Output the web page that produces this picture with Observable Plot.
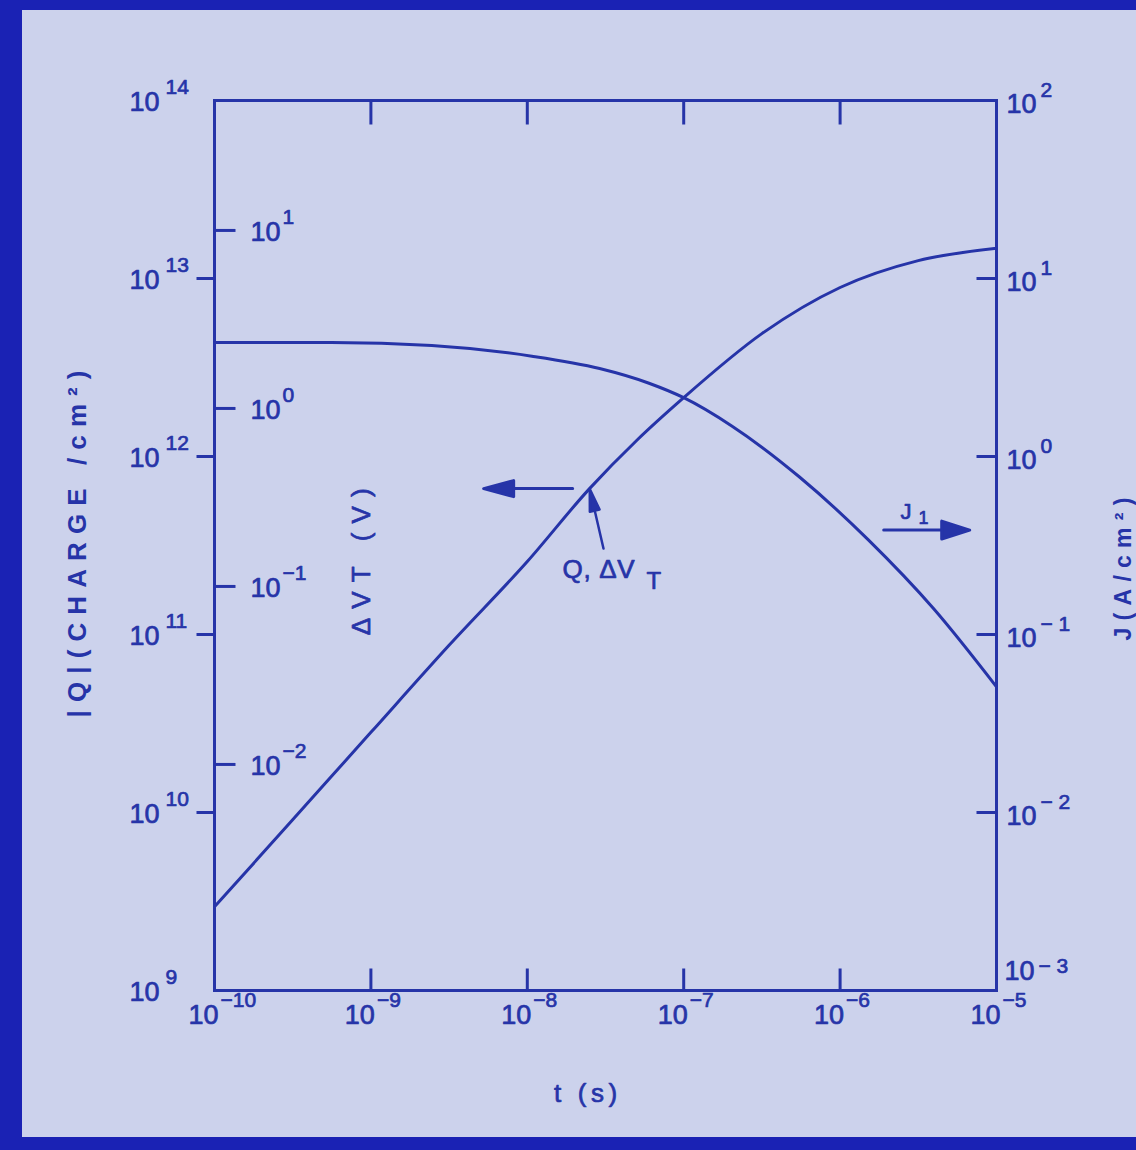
<!DOCTYPE html>
<html><head><meta charset="utf-8">
<script src="https://cdn.jsdelivr.net/npm/d3@7"></script>
<script src="https://cdn.jsdelivr.net/npm/@observablehq/plot@0.6"></script>
<style>
html,body{margin:0;padding:0;}
body{width:1136px;height:1150px;background:#1a22b4;position:relative;overflow:hidden;}
#panel{position:absolute;left:22px;top:10px;width:1114px;height:1127px;background:#ccd2ec;}
#chart{position:absolute;left:0;top:0;}
</style></head>
<body><div id="panel"></div><div id="chart"></div>
<script>
// ---- tick values and labels ----
const tTicks = [1e-10, 1e-9, 1e-8, 1e-7, 1e-6, 1e-5];
const tExp   = ["−10", "−9", "−8", "−7", "−6", "−5"];
const qTicks = [1e14, 1e13, 1e12, 1e11, 1e10, 1e9];
const qExp   = ["14", "13", "12", "11", "10", "9"];
const dvTicks = [10, 1, 0.1, 0.01];
const dvExp   = ["1", "0", "−1", "−2"];
const jTicks = [100, 10, 1, 0.1, 0.01, 0.001];
const jExp   = ["2", "1", "0", "− 1", "− 2", "− 3"];

// ---- series: |Q| (charge/cm^2) vs t (s) ----
const tQ   = [1e-10, 3.16e-10, 1e-9, 3.16e-9, 1e-8, 2.5e-8, 5e-8, 1e-7, 3.16e-7, 1e-6, 3.16e-6, 1e-5];
const qVal = [2.95e9, 9.1e9, 2.82e10, 8.7e10, 2.57e11, 6.6e11, 1.23e12, 2.14e12, 4.9e12, 8.9e12, 1.26e13, 1.48e13];
// ---- series: J1 (A/cm^2) vs t (s) ----
const tJ   = [1e-10, 5.6e-10, 2.45e-9, 1.07e-8, 2.9e-8, 6.0e-8, 1.0e-7, 2.04e-7, 5.5e-7, 1.51e-6, 3.98e-6, 1e-5];
const jVal = [4.37, 4.37, 4.2, 3.66, 3.12, 2.58, 2.14, 1.48, 0.767, 0.341, 0.139, 0.0508];

// secondary axes relative to the |Q| axis
const Q_PER_J  = 1e12;          // J axis: 1e-3..1e2  <->  Q 1e9..1e14
const Q_PER_DV = 10 ** 12.27;   // ΔV_T axis

// ---- annotations (data coordinates) ----
const leftArrow    = {t: 1.95e-8, q: 6.6e11};
const pointerArrow = {t: 3.07e-8, q: 3.04e11};
const jArrow       = {t: 1.9e-6, j: 0.386};
const qLabel       = {t: 1.68e-8, q: 2.32e11, text: "Q, ΔV", sub: "T"};
const jLabel       = {t: 2.43e-6, j: 0.488, text: "J", sub: "1"};
const dvTitle      = {t: 8.7e-10, q: 9.9e10, text: "ΔVT (V)"};
const tTitle       = {t: 2.36e-8, text: "t (s)"};
const jTitle       = {j: 0.0925, text: "J(A/cm²)"};
const qTitle       = {q: 3.42e10, text: "|Q|(CHARGE /cm²)"};

const INK = "#2634a8";
const FONT = "'Liberation Sans', Arial, sans-serif";

const seg = {draw(ctx, l) { ctx.moveTo(0, 0); ctx.lineTo(0, -l); }};
const arrowShape = (h, w) => ({draw(ctx, l) {
  ctx.moveTo(0, 0); ctx.lineTo(0, -l + h);
  ctx.moveTo(0, -l); ctx.lineTo(-w, -l + h); ctx.lineTo(w, -l + h); ctx.closePath();
}});

const qData = tQ.map((t, i) => ({t, q: qVal[i]}));
const jData = tJ.map((t, i) => ({t, j: jVal[i]}));
const inner = a => a.slice(1, -1);

const tickOpts = {anchor: "start", shape: seg, stroke: INK, strokeWidth: 3, strokeLinecap: "butt"};
const ink = {fill: INK, stroke: INK, strokeWidth: 0.7};
const base = {...ink, fontSize: 27, text: () => "10"};
const sup = {...ink, fontSize: 21};

const chart = Plot.plot({
  width: 1136, height: 1150,
  marginLeft: 214, marginRight: 140, marginTop: 100, marginBottom: 160,
  x: {type: "log", domain: [1e-10, 1e-5], axis: null},
  y: {type: "log", domain: [1e9, 1e14], axis: null},
  style: {background: "transparent", fontFamily: FONT, color: INK},
  marks: [
    Plot.frame({stroke: INK, strokeWidth: 3}),
    // curves
    Plot.line(qData, {x: "t", y: "q", curve: "monotone-x", stroke: INK, strokeWidth: 3}),
    Plot.line(jData, {x: "t", y: d => d.j * Q_PER_J, curve: "monotone-x", stroke: INK, strokeWidth: 3}),
    // ticks
    Plot.vector(inner(tTicks), {x: d => d, frameAnchor: "bottom", rotate: 0, length: 22, ...tickOpts}),
    Plot.vector(inner(tTicks), {x: d => d, frameAnchor: "top", rotate: 180, length: 24, ...tickOpts}),
    Plot.vector(inner(qTicks), {y: d => d, frameAnchor: "left", rotate: -90, length: 18, ...tickOpts}),
    Plot.vector(dvTicks, {y: d => d * Q_PER_DV, frameAnchor: "left", rotate: 90, length: 21, ...tickOpts}),
    Plot.vector(inner(jTicks), {y: d => d * Q_PER_J, frameAnchor: "right", rotate: -90, length: 20, ...tickOpts}),
    // x tick labels
    Plot.text(tTicks, {x: d => d, frameAnchor: "bottom", textAnchor: "end", dx: 4, dy: 33, ...base}),
    Plot.text(tTicks, {x: d => d, frameAnchor: "bottom", textAnchor: "start", dx: 6, dy: 16, text: (d, i) => tExp[i], ...sup}),
    // |Q| tick labels
    Plot.text(qTicks, {y: d => d, frameAnchor: "left", textAnchor: "end", dx: -55, dy: 2, ...base}),
    Plot.text(qTicks, {y: d => d, frameAnchor: "left", textAnchor: "start", dx: -49, dy: -13, text: (d, i) => qExp[i], ...sup}),
    // ΔV_T tick labels
    Plot.text(dvTicks, {y: d => d * Q_PER_DV, frameAnchor: "left", textAnchor: "start", dx: 36, dy: 2, ...base}),
    Plot.text(dvTicks, {y: d => d * Q_PER_DV, frameAnchor: "left", textAnchor: "start", dx: 68, dy: -13, text: (d, i) => dvExp[i], ...sup}),
    // J tick labels
    Plot.text(jTicks.slice(0, -1), {y: d => d * Q_PER_J, frameAnchor: "right", textAnchor: "start", dx: 10, dy: 4, ...base}),
    Plot.text(jTicks.slice(0, -1), {y: d => d * Q_PER_J, frameAnchor: "right", textAnchor: "start", dx: 44, dy: -10, text: (d, i) => jExp[i], ...sup}),
    Plot.text(jTicks.slice(-1), {y: d => d * Q_PER_J, frameAnchor: "right", textAnchor: "start", dx: 8, dy: -19, ...base}),
    Plot.text(jTicks.slice(-1), {y: d => d * Q_PER_J, frameAnchor: "right", textAnchor: "start", dx: 42, dy: -24, text: () => jExp[jExp.length - 1], ...sup}),
    // arrows
    Plot.vector([leftArrow], {x: "t", y: "q", anchor: "start", rotate: -90, length: 89, shape: arrowShape(30, 8), stroke: INK, fill: INK, strokeWidth: 3}),
    Plot.vector([pointerArrow], {x: "t", y: "q", anchor: "start", rotate: -13, length: 61, shape: arrowShape(22, 5), stroke: INK, fill: INK, strokeWidth: 2.5}),
    Plot.vector([jArrow], {x: "t", y: d => d.j * Q_PER_J, anchor: "start", rotate: 90, length: 86, shape: arrowShape(28, 9), stroke: INK, fill: INK, strokeWidth: 3}),
    // annotation labels
    Plot.text([qLabel], {x: "t", y: "q", text: "text", textAnchor: "start", ...ink, fontSize: 26}),
    Plot.text([qLabel], {x: "t", y: "q", text: "sub", textAnchor: "start", dx: 84, dy: 12, ...ink, fontSize: 24}),
    Plot.text([jLabel], {x: "t", y: d => d.j * Q_PER_J, text: "text", textAnchor: "start", ...ink, fontSize: 22}),
    Plot.text([jLabel], {x: "t", y: d => d.j * Q_PER_J, text: "sub", textAnchor: "start", dx: 18, dy: 6, ...ink, fontSize: 18}),
    // axis titles (rotated ones anchored at their lower end)
    Plot.text([dvTitle], {x: "t", y: "q", text: "text", rotate: -90, textAnchor: "start", ...ink, fontSize: 26}),
    Plot.text([tTitle], {x: "t", text: "text", frameAnchor: "bottom", dy: 111, ...ink, fontSize: 26}),
    Plot.text([jTitle], {y: d => d.j * Q_PER_J, text: "text", frameAnchor: "right", dx: 127, rotate: -90, textAnchor: "start", fill: INK, fontSize: 23, fontWeight: "bold"}),
    Plot.text([qTitle], {y: "q", text: "text", frameAnchor: "left", dx: -137, rotate: -90, textAnchor: "start", fill: INK, fontSize: 26, fontWeight: "bold"})
  ]
});

// stretch the wide-spaced lettering of the titles to the reference widths
const lengths = {[qTitle.text]: 347, [jTitle.text]: 143, [dvTitle.text]: 147, [tTitle.text]: 63, [qLabel.text]: 72};
d3.select(chart).selectAll("text").each(function () {
  const v = lengths[this.textContent];
  if (v) d3.select(this).attr("textLength", v).attr("lengthAdjust", "spacing");
});
document.getElementById("chart").appendChild(chart);
</script>
</body></html>
